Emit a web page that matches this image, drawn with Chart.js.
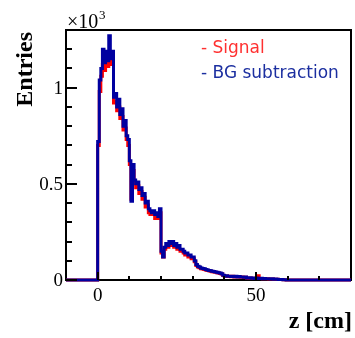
<!DOCTYPE html>
<html><head><meta charset="utf-8">
<script src="https://cdn.jsdelivr.net/npm/chart.js@4.4.0/dist/chart.umd.min.js"></script>
<style>html,body{margin:0;padding:0;background:#fff;}#wrap{width:355px;height:338px;}</style>
</head><body><div id="wrap"><canvas id="c" width="355" height="338"></canvas></div>
<script>
// Histogram binning (z in cm)
const binStart = 0;
const binWidth = 0.5;
// BG-subtracted entries (x10^3) per 0.5 cm bin, z = 0 .. 60 cm
const bgSubtraction = [
 0.72,1.04,1.10,1.20,1.13,1.19,1.14,1.27,1.15,1.19,
 0.95,0.97,0.90,0.94,0.86,0.89,0.80,0.83,0.75,0.73,
 0.62,0.41,0.60,0.52,0.50,0.51,0.47,0.48,0.44,0.45,
 0.40,0.41,0.37,0.36,0.35,0.36,0.34,0.35,0.33,0.37,
 0.15,0.12,0.17,0.19,0.18,0.20,0.19,0.20,0.18,0.19,
 0.17,0.18,0.16,0.16,0.15,0.14,0.14,0.13,0.13,0.12,
 0.12,0.10,0.080,0.072,0.068,0.062,0.060,0.058,0.055,0.052,
 0.050,0.048,0.045,0.044,0.042,0.040,0.038,0.036,0.033,0.025,
 0.020,0.022,0.019,0.020,0.018,0.020,0.017,0.019,0.016,0.018,
 0.015,0.016,0.014,0.015,0.011,0.010,0.012,0.009,0.010,0.008,
 0.010,0.009,0.008,0.009,0.007,0.008,0.006,0.007,0.006,0.005,
 0.006,0.004,0.005,0.004,0.003,0.003,0.002,0.001,0.001,0.000
];
// Signal entries (x10^3) per 0.5 cm bin
const signal = [
 0.70,0.98,1.06,1.12,1.09,1.13,1.11,1.16,1.12,1.14,
 0.92,0.93,0.88,0.90,0.84,0.85,0.78,0.79,0.73,0.70,
 0.60,0.42,0.57,0.50,0.48,0.49,0.45,0.46,0.42,0.43,
 0.38,0.39,0.35,0.34,0.34,0.35,0.32,0.33,0.32,0.35,
 0.14,0.12,0.16,0.17,0.17,0.18,0.18,0.18,0.17,0.17,
 0.16,0.16,0.15,0.15,0.14,0.13,0.13,0.12,0.12,0.11,
 0.11,0.095,0.075,0.068,0.064,0.058,0.057,0.055,0.052,0.050,
 0.048,0.046,0.043,0.042,0.040,0.038,0.036,0.034,0.031,0.024,
 0.019,0.021,0.018,0.019,0.017,0.019,0.016,0.018,0.015,0.017,
 0.014,0.015,0.013,0.014,0.010,0.009,0.011,0.009,0.009,0.008,
 0.009,0.022,0.008,0.008,0.007,0.007,0.006,0.006,0.005,0.005,
 0.005,0.004,0.004,0.004,0.003,0.003,0.002,0.001,0.001,0.000
];
const xRange = [-10, 80];
const yRange = [0, 1.3];
const xMajorTicks = [0, 50];
const xTickLabels = ['0', '50'];
const xMinorTicks = [10, 20, 30, 40, 60, 70];
const yMajorTicks = [0, 0.5, 1];
const yTickLabels = ['0', '0.5', '1'];
const yMinorTicks = [0.1, 0.2, 0.3, 0.4, 0.6, 0.7, 0.8, 0.9, 1.1, 1.2];
const seriesNames = ['- Signal', '- BG subtraction'];
const xTitle = 'z [cm]';
const yTitle = 'Entries';

function histPoints(vals) {
  const pts = [{x: xRange[0], y: 0}];
  vals.forEach((v, i) => pts.push({x: binStart + i * binWidth, y: v}));
  pts.push({x: binStart + vals.length * binWidth, y: 0});
  pts.push({x: xRange[1], y: 0});
  return pts;
}

const framePlugin = {
  id: 'frame',
  beforeDatasetsDraw(chart) {
    const {ctx, chartArea: a} = chart;
    ctx.save();
    ctx.strokeStyle = '#000';
    ctx.lineWidth = 2;
    ctx.strokeRect(a.left, a.top, a.right - a.left, a.bottom - a.top);
    ctx.restore();
  },
  afterDatasetsDraw(chart) {
    const {ctx, chartArea: a, scales: {x, y}} = chart;
    ctx.save();
    ctx.strokeStyle = '#000';
    ctx.lineWidth = 2;
    ctx.beginPath();
    yMajorTicks.forEach(v => { const p = Math.round(y.getPixelForValue(v)); ctx.moveTo(a.left, p); ctx.lineTo(a.left + 11, p); });
    yMinorTicks.forEach(v => { const p = Math.round(y.getPixelForValue(v)); ctx.moveTo(a.left, p); ctx.lineTo(a.left + 6, p); });
    xMajorTicks.forEach(v => { const p = Math.round(x.getPixelForValue(v)); ctx.moveTo(p, a.bottom); ctx.lineTo(p, a.bottom - 8); });
    xMinorTicks.forEach(v => { const p = Math.round(x.getPixelForValue(v)); ctx.moveTo(p, a.bottom); ctx.lineTo(p, a.bottom - 4); });
    ctx.stroke();

    ctx.fillStyle = '#000';
    ctx.font = '19px "Liberation Serif", serif';
    ctx.textAlign = 'right';
    ctx.textBaseline = 'middle';
    yMajorTicks.forEach((v, i) => ctx.fillText(yTickLabels[i], a.left - 3, y.getPixelForValue(v) + 1));
    ctx.textAlign = 'center';
    ctx.textBaseline = 'top';
    xMajorTicks.forEach((v, i) => ctx.fillText(xTickLabels[i], x.getPixelForValue(v), a.bottom + 7));

    // exponent
    ctx.textAlign = 'left';
    ctx.textBaseline = 'alphabetic';
    ctx.font = '20px "Liberation Serif", serif';
    ctx.fillText('\u00d710', a.left + 1, 28);
    ctx.font = '13px "Liberation Serif", serif';
    ctx.fillText('3', a.left + 33, 19);

    // titles
    ctx.font = 'bold 24px "Liberation Serif", serif';
    ctx.textAlign = 'right';
    ctx.fillText(xTitle, 352, 328);
    ctx.save();
    ctx.translate(32, 32);
    ctx.rotate(-Math.PI / 2);
    ctx.textAlign = 'right';
    ctx.fillText(yTitle, 0, 0);
    ctx.restore();

    // legend
    ctx.font = '17px "DejaVu Sans", sans-serif';
    ctx.textAlign = 'left';
    ctx.fillStyle = '#ff3030';
    ctx.fillText(seriesNames[0], 201, 53);
    ctx.fillStyle = '#1c2fa0';
    ctx.fillText(seriesNames[1], 201, 78);
    ctx.restore();
  }
};

new Chart(document.getElementById('c'), {
  type: 'line',
  data: {
    datasets: [
      {label: 'BG subtraction', data: histPoints(bgSubtraction), borderColor: '#0000a0', borderWidth: 3, stepped: true, pointRadius: 0, fill: false, clip: 5, order: 0},
      {label: 'Signal', data: histPoints(signal), borderColor: '#ff0000', borderWidth: 3, stepped: true, pointRadius: 0, fill: false, clip: 5, order: 1}
    ]
  },
  options: {
    responsive: false,
    animation: false,
    layout: {padding: {left: 66, right: 4, top: 30, bottom: 58}},
    plugins: {legend: {display: false}, tooltip: {enabled: false}},
    scales: {
      x: {type: 'linear', min: xRange[0], max: xRange[1], display: false},
      y: {type: 'linear', min: yRange[0], max: yRange[1], display: false}
    }
  },
  plugins: [framePlugin]
});
</script></body></html>
